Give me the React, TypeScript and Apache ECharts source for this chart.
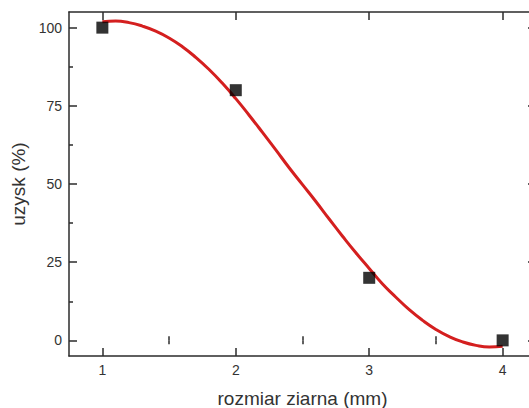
import React, { useEffect, useRef } from "react";
import * as echarts from "echarts";

// measured points
const sizes = [1, 2, 3, 4];
const yields = [100, 80, 20, 0];

// fitted curve
const fitX = [1.0, 1.1, 1.2, 1.3, 1.4, 1.5, 1.6, 1.7, 1.8, 1.9, 2.0, 2.1, 2.2, 2.3, 2.4, 2.5, 2.6, 2.7, 2.8, 2.9, 3.0, 3.1, 3.2, 3.3, 3.4, 3.5, 3.6, 3.7, 3.8, 3.9, 4.0];
const fitY = [101.9, 102.1, 101.6, 100.5, 98.9, 96.7, 93.9, 90.5, 86.6, 82.2, 77.3, 72.0, 66.5, 60.9, 55.2, 49.8, 44.4, 38.8, 33.3, 28.0, 23.0, 18.0, 13.8, 9.8, 6.4, 3.5, 1.2, -0.5, -1.6, -2.1, -1.9];

const xMajorTicks = [1, 2, 3, 4];
const xMinorTicks = [1.5, 2.5, 3.5];
const yMajorTicks = [0, 25, 50, 75, 100];
const yMinorTicks = [12.5, 37.5, 62.5, 87.5];

const AXIS_COLOR = "#2b2b2b";
const TEXT_COLOR = "#333333";
const FONT = "'Liberation Sans', Arial, sans-serif";

export default function App() {
  const ref = useRef<HTMLDivElement>(null);

  useEffect(() => {
    if (!ref.current) return;
    const chart = echarts.init(ref.current, undefined, { renderer: "svg", width: 540, height: 408 });

    const xRange = { type: "value" as const, min: 0.75, max: 4.25, gridIndex: 0, splitLine: { show: false } };
    const yRange = { type: "value" as const, min: -5, max: 105, gridIndex: 0, splitLine: { show: false } };

    const majorTick = (vals: number[]) => ({
      show: true, inside: true, length: 8, customValues: vals,
      lineStyle: { color: AXIS_COLOR, width: 1.5 },
    });
    const minorTick = (vals: number[]) => ({
      show: true, inside: true, length: 4, customValues: vals,
      lineStyle: { color: AXIS_COLOR, width: 1.5 },
    });
    const line = { show: true, onZero: false, lineStyle: { color: AXIS_COLOR, width: 1.5 } };

    chart.setOption({
      animation: false,
      backgroundColor: "#ffffff",
      grid: { left: 69, right: 4, top: 12, bottom: 52, containLabel: false, outerBoundsMode: "none" },
      xAxis: [
        {
          ...xRange, position: "bottom",
          axisLine: line,
          axisTick: majorTick(xMajorTicks),
          axisLabel: { show: true, customValues: xMajorTicks, margin: 7, color: TEXT_COLOR, fontSize: 14, fontFamily: FONT },
          name: "rozmiar ziarna (mm)", nameLocation: "middle", nameGap: 33,
          nameTextStyle: { color: TEXT_COLOR, fontSize: 19, fontFamily: FONT },
        },
        { ...xRange, position: "bottom", axisLine: { show: false }, axisTick: minorTick(xMinorTicks), axisLabel: { show: false } },
        { ...xRange, position: "top", axisLine: line, axisTick: majorTick(xMajorTicks), axisLabel: { show: false } },
        { ...xRange, position: "top", axisLine: { show: false }, axisTick: minorTick(xMinorTicks), axisLabel: { show: false } },
      ],
      yAxis: [
        {
          ...yRange, position: "left",
          axisLine: line,
          axisTick: majorTick(yMajorTicks),
          axisLabel: { show: true, customValues: yMajorTicks, margin: 7, color: TEXT_COLOR, fontSize: 14, fontFamily: FONT },
          name: "uzysk (%)", nameLocation: "middle", nameGap: 38,
          nameTextStyle: { color: TEXT_COLOR, fontSize: 19, fontFamily: FONT },
        },
        { ...yRange, position: "left", axisLine: { show: false }, axisTick: minorTick(yMinorTicks), axisLabel: { show: false } },
        { ...yRange, position: "right", axisLine: line, axisTick: majorTick(yMajorTicks), axisLabel: { show: false } },
        { ...yRange, position: "right", axisLine: { show: false }, axisTick: minorTick(yMinorTicks), axisLabel: { show: false } },
      ],
      series: [
        {
          type: "line",
          xAxisIndex: 0, yAxisIndex: 0,
          data: fitX.map((x, i) => [x, fitY[i]]),
          smooth: true,
          showSymbol: false,
          lineStyle: { color: "#d41f1f", width: 3 },
          z: 2,
        },
        {
          type: "scatter",
          xAxisIndex: 0, yAxisIndex: 0,
          data: sizes.map((x, i) => [x, yields[i]]),
          symbol: "rect",
          symbolSize: 12,
          itemStyle: { color: "#000000" },
          z: 3,
        },
      ],
    });

    return () => chart.dispose();
  }, []);

  return (
    <div
      ref={ref}
      style={{ position: "fixed", left: 0, top: 0, width: 540, height: 408, background: "#fff", overflow: "hidden" }}
    />
  );
}
